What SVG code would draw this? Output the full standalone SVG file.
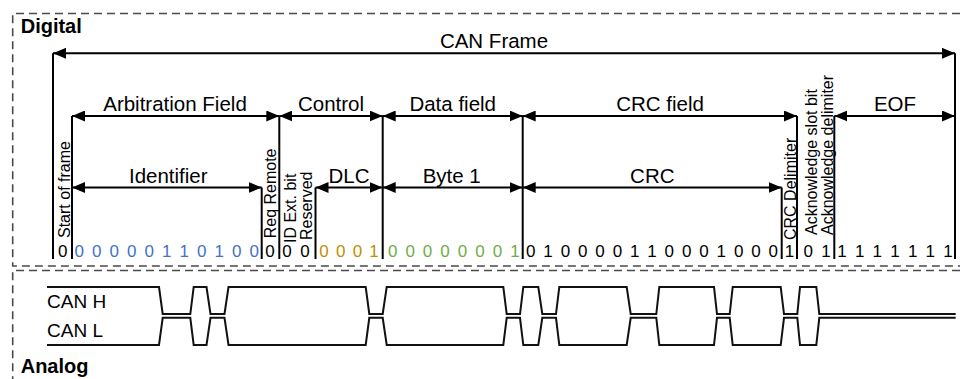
<svg xmlns="http://www.w3.org/2000/svg" width="964" height="379" viewBox="0 0 964 379">
  <style>
    .frame { fill: none; stroke: #4a4a4a; stroke-width: 1.6; stroke-dasharray: 8 5; }
    .title { font-family: "Liberation Sans", Arial, sans-serif; font-weight: bold; font-size: 20px; fill: #000; }
    .lbl { font-family: "Liberation Sans", Arial, sans-serif; font-size: 20.5px; fill: #000; text-anchor: middle; }
    .vlbl { font-family: "Liberation Sans", Arial, sans-serif; font-size: 16px; fill: #000; }
    .sig { font-family: "Liberation Sans", Arial, sans-serif; font-size: 19px; fill: #000; }
    .bits { font-family: "Liberation Sans", Arial, sans-serif; font-size: 17px; fill: #000; text-anchor: middle; }
    .blue { fill: #4472C4; }
    .gold { fill: #BF9000; }
    .green { fill: #70AD47; }
    .tick { stroke: #000; stroke-width: 2; fill: none; }
    .dim { stroke: #000; stroke-width: 2; fill: none; marker-start: url(#head); marker-end: url(#head); }
    .wave { stroke: #111; stroke-width: 2; fill: none; stroke-linejoin: miter; }
  </style>
  <defs>
    <marker id="head" markerUnits="userSpaceOnUse" markerWidth="14" markerHeight="11" refX="13" refY="5.5" orient="auto-start-reverse" viewBox="0 0 14 11">
      <path d="M0,0 L13,5.5 L0,11 z" fill="#000"/>
    </marker>
  </defs>

  <rect x="0" y="0" width="964" height="379" fill="#fff"/>

  <!-- dashed section frames -->
  <g id="digital-section">
    <path class="frame" d="M960,13.5 H12.7 V266 H960"/>
    <text class="title" x="20.7" y="33">Digital</text>
  </g>
  <g id="analog-section">
    <path class="frame" d="M960,270.5 H12.7 V379"/>
    <text class="title" x="20.7" y="373">Analog</text>
  </g>

  <!-- field boundary ticks -->
  <g id="ticks">
    <line class="tick" x1="53" y1="53.3" x2="53" y2="259"/>
    <line class="tick" x1="72" y1="116" x2="72" y2="259"/>
    <line class="tick" x1="261.7" y1="187.5" x2="261.7" y2="259"/>
    <line class="tick" x1="279.3" y1="116" x2="279.3" y2="259"/>
    <line class="tick" x1="315.5" y1="187.5" x2="315.5" y2="259"/>
    <line class="tick" x1="382.7" y1="116" x2="382.7" y2="259"/>
    <line class="tick" x1="522.7" y1="116" x2="522.7" y2="259"/>
    <line class="tick" x1="781.7" y1="187.5" x2="781.7" y2="259"/>
    <line class="tick" x1="797" y1="116" x2="797" y2="259"/>
    <line class="tick" x1="834.3" y1="116" x2="834.3" y2="259"/>
    <line class="tick" x1="955" y1="53.3" x2="955" y2="259"/>
  </g>

  <!-- dimension arrows -->
  <g id="connectors">
    <line class="dim" x1="53" y1="53.3" x2="955" y2="53.3"/>
    <line class="dim" x1="72" y1="116" x2="279.3" y2="116"/>
    <line class="dim" x1="279.3" y1="116" x2="382.7" y2="116"/>
    <line class="dim" x1="382.7" y1="116" x2="522.7" y2="116"/>
    <line class="dim" x1="522.7" y1="116" x2="797" y2="116"/>
    <line class="dim" x1="834.3" y1="116" x2="955" y2="116"/>
    <line class="dim" x1="72" y1="187.5" x2="261.7" y2="187.5"/>
    <line class="dim" x1="315.5" y1="187.5" x2="382.7" y2="187.5"/>
    <line class="dim" x1="382.7" y1="187.5" x2="522.7" y2="187.5"/>
    <line class="dim" x1="522.7" y1="187.5" x2="781.7" y2="187.5"/>
  </g>

  <g id="can-frame">
    <text class="lbl" x="494" y="48" font-size="21">CAN Frame</text>
  </g>

  <g id="start-of-frame">
    <text class="vlbl" transform="translate(69.5,238) rotate(-90)">Start of frame</text>
    <text class="bits" x="62.7" y="256.5">0</text>
  </g>

  <g id="arbitration-field">
    <text class="lbl" x="175" y="111">Arbitration Field</text>
    <text class="lbl" x="168.3" y="183">Identifier</text>
    <text class="bits blue" x="79.3 88.05 96.8 105.55 114.3 123.05 131.8 140.55 149.3 158.05 166.8 175.55 184.3 193.05 201.8 210.55 219.3 228.05 236.8 245.55 254.3" y="256.5">0 0 0 0 0 1 1 0 1 0 0</text>
    <text class="vlbl" transform="translate(276,238.3) rotate(-90)">Req Remote</text>
    <text class="bits" x="270" y="256.5">0</text>
  </g>

  <g id="control-field">
    <text class="lbl" x="331" y="111">Control</text>
    <text class="vlbl" transform="translate(296,243) rotate(-90)">ID Ext. bit</text>
    <text class="vlbl" transform="translate(311.5,240) rotate(-90)">Reserved</text>
    <text class="bits" x="287 296 305" y="256.5">0 0</text>
    <text class="lbl" x="349" y="183">DLC</text>
    <text class="bits gold" x="324 332.35 340.7 349.05 357.4 365.75 374.1" y="256.5">0 0 0 1</text>
  </g>

  <g id="data-field">
    <text class="lbl" x="452.7" y="111">Data field</text>
    <text class="lbl" x="451.7" y="183">Byte 1</text>
    <text class="bits green" x="392.7 401.45 410.2 418.9 427.6 436.35 445.1 453.85 462.6 471.35 480.1 488.8 497.5 506.25 515" y="256.5">0 0 0 0 0 0 0 1</text>
  </g>

  <g id="crc-field">
    <text class="lbl" x="660" y="111">CRC field</text>
    <text class="lbl" x="652.3" y="183">CRC</text>
    <text class="bits" x="530.7 539.35 548 556.7 565.4 574.05 582.7 591.35 600 608.7 617.4 626.05 634.7 643.35 652 660.65 669.3 678 686.7 695.35 704 712.65 721.3 730 738.7 747.35 756 764.65 773.3" y="256.5">0 1 0 0 0 0 1 1 0 0 0 1 0 0 0</text>
    <text class="vlbl" transform="translate(795.5,240) rotate(-90)">CRC Delimiter</text>
    <text class="bits" x="789.5" y="256.5">1</text>
  </g>

  <g id="acknowledge">
    <text class="vlbl" transform="translate(816.5,235) rotate(-90)">Acknowledge slot bit</text>
    <text class="vlbl" transform="translate(832.5,235) rotate(-90)">Acknowledge delimiter</text>
    <text class="bits" x="808.3 817.15 826" y="256.5">0 1</text>
  </g>

  <g id="end-of-frame">
    <text class="lbl" x="895" y="111">EOF</text>
    <text class="bits" x="842 850.85 859.7 868.5 877.3 886.15 895 903.85 912.7 921.5 930.3 939.15 948" y="256.5">1 1 1 1 1 1 1</text>
  </g>

  <!-- differential bus levels -->
  <g id="can-h">
    <text class="sig" x="47" y="308">CAN H</text>
    <polyline class="wave" points="47,287 159,287 162.7,314 190.3,314 193.7,287 206.5,287 210.5,314 224.5,314 228.5,287 365.7,287 369.3,314 382.7,314 386.7,287 503.3,287 506.7,314 520,314 523.3,287 538.3,287 542.3,314 556,314 559.3,287 626.7,287 630.7,314 656.3,314 659.3,287 714,287 717,314 729.7,314 732.7,287 780.7,287 784,314 797.3,314 800,287 816.3,287 819.3,314 955.7,314"/>
  </g>
  <g id="can-l">
    <text class="sig" x="47" y="337">CAN L</text>
    <polyline class="wave" points="47,345 159,345 162.7,317.8 190.3,317.8 193.7,345 206.5,345 210.5,317.8 224.5,317.8 228.5,345 365.7,345 369.3,317.8 382.7,317.8 386.7,345 503.3,345 506.7,317.8 520,317.8 523.3,345 538.3,345 542.3,317.8 556,317.8 559.3,345 626.7,345 630.7,317.8 656.3,317.8 659.3,345 714,345 717,317.8 729.7,317.8 732.7,345 780.7,345 784,317.8 797.3,317.8 800,345 816.3,345 819.3,317.8 955.7,317.8"/>
  </g>
</svg>
